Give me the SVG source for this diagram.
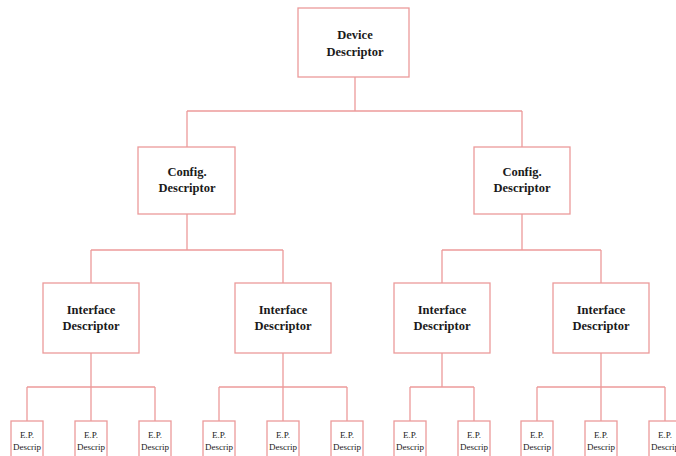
<svg xmlns="http://www.w3.org/2000/svg" width="676" height="456" viewBox="0 0 676 456">
<style>
rect{fill:#fff;stroke:#ec9a9a;stroke-width:1.3}
.c line{stroke:#ec9a9a;stroke-width:1.3}
.t{font-family:"Liberation Serif",serif;font-weight:bold;font-size:12.5px;fill:#1a1a1a;text-anchor:middle}
.e{font-family:"Liberation Serif",serif;font-size:9px;fill:#1a1a1a;text-anchor:middle}
</style>
<rect x="0" y="0" width="676" height="456" style="stroke:none;fill:#fff"/>
<g class="c" id="connectors">
<line x1="355" y1="77" x2="355" y2="111"/>
<line x1="187" y1="111" x2="522" y2="111"/>
<line x1="187" y1="111" x2="187" y2="147"/>
<line x1="522" y1="111" x2="522" y2="147"/>
<line x1="187" y1="214" x2="187" y2="250"/>
<line x1="91" y1="250" x2="283" y2="250"/>
<line x1="91" y1="250" x2="91" y2="283"/>
<line x1="283" y1="250" x2="283" y2="283"/>
<line x1="522" y1="214" x2="522" y2="250"/>
<line x1="442" y1="250" x2="601" y2="250"/>
<line x1="442" y1="250" x2="442" y2="283"/>
<line x1="601" y1="250" x2="601" y2="283"/>
<line x1="91" y1="353" x2="91" y2="421"/>
<line x1="27" y1="387" x2="155" y2="387"/>
<line x1="27" y1="387" x2="27" y2="421"/>
<line x1="155" y1="387" x2="155" y2="421"/>
<line x1="283" y1="353" x2="283" y2="421"/>
<line x1="219" y1="387" x2="347" y2="387"/>
<line x1="219" y1="387" x2="219" y2="421"/>
<line x1="347" y1="387" x2="347" y2="421"/>
<line x1="442" y1="353" x2="442" y2="387"/>
<line x1="410" y1="387" x2="474" y2="387"/>
<line x1="410" y1="387" x2="410" y2="421"/>
<line x1="474" y1="387" x2="474" y2="421"/>
<line x1="601" y1="353" x2="601" y2="421"/>
<line x1="537" y1="387" x2="665" y2="387"/>
<line x1="537" y1="387" x2="537" y2="421"/>
<line x1="665" y1="387" x2="665" y2="421"/>
</g>
<g id="device"><rect x="298" y="8" width="111" height="69"/><text class="t" x="355" y="39">Device</text><text class="t" x="355" y="56">Descriptor</text></g>
<g id="config1"><rect x="138" y="147" width="97" height="67"/><text class="t" x="187" y="176">Config.</text><text class="t" x="187" y="192">Descriptor</text></g>
<g id="config2"><rect x="474" y="147" width="96" height="67"/><text class="t" x="522" y="176">Config.</text><text class="t" x="522" y="192">Descriptor</text></g>
<g id="iface1"><rect x="43" y="283" width="96" height="70"/><text class="t" x="91" y="314">Interface</text><text class="t" x="91" y="330">Descriptor</text></g>
<g id="iface2"><rect x="235" y="283" width="96" height="70"/><text class="t" x="283" y="314">Interface</text><text class="t" x="283" y="330">Descriptor</text></g>
<g id="iface3"><rect x="394" y="283" width="96" height="70"/><text class="t" x="442" y="314">Interface</text><text class="t" x="442" y="330">Descriptor</text></g>
<g id="iface4"><rect x="553" y="283" width="96" height="70"/><text class="t" x="601" y="314">Interface</text><text class="t" x="601" y="330">Descriptor</text></g>
<g id="ep1"><rect x="11" y="421" width="32" height="40"/><text class="e" x="27" y="438">E.P.</text><text class="e" x="27" y="450">Descrip</text></g>
<g id="ep2"><rect x="75" y="421" width="32" height="40"/><text class="e" x="91" y="438">E.P.</text><text class="e" x="91" y="450">Descrip</text></g>
<g id="ep3"><rect x="139" y="421" width="32" height="40"/><text class="e" x="155" y="438">E.P.</text><text class="e" x="155" y="450">Descrip</text></g>
<g id="ep4"><rect x="203" y="421" width="32" height="40"/><text class="e" x="219" y="438">E.P.</text><text class="e" x="219" y="450">Descrip</text></g>
<g id="ep5"><rect x="267" y="421" width="32" height="40"/><text class="e" x="283" y="438">E.P.</text><text class="e" x="283" y="450">Descrip</text></g>
<g id="ep6"><rect x="331" y="421" width="32" height="40"/><text class="e" x="347" y="438">E.P.</text><text class="e" x="347" y="450">Descrip</text></g>
<g id="ep7"><rect x="394" y="421" width="32" height="40"/><text class="e" x="410" y="438">E.P.</text><text class="e" x="410" y="450">Descrip</text></g>
<g id="ep8"><rect x="458" y="421" width="32" height="40"/><text class="e" x="474" y="438">E.P.</text><text class="e" x="474" y="450">Descrip</text></g>
<g id="ep9"><rect x="521" y="421" width="32" height="40"/><text class="e" x="537" y="438">E.P.</text><text class="e" x="537" y="450">Descrip</text></g>
<g id="ep10"><rect x="585" y="421" width="32" height="40"/><text class="e" x="601" y="438">E.P.</text><text class="e" x="601" y="450">Descrip</text></g>
<g id="ep11"><rect x="649" y="421" width="32" height="40"/><text class="e" x="665" y="438">E.P.</text><text class="e" x="665" y="450">Descrip</text></g>
</svg>
